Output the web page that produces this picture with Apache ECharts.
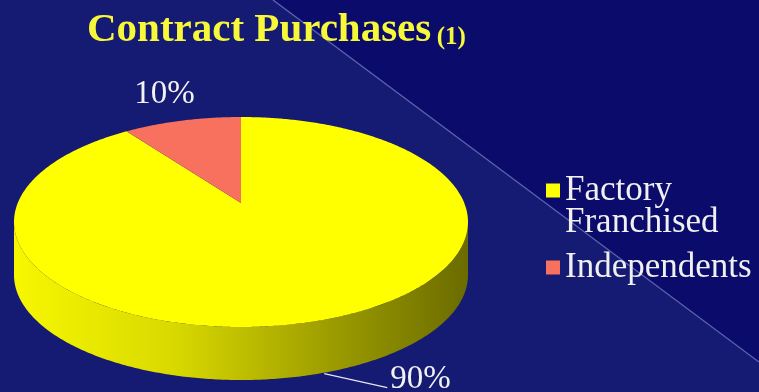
<!DOCTYPE html>
<html><head><meta charset="utf-8">
<script src="https://cdn.jsdelivr.net/npm/echarts@6/dist/echarts.min.js"></script>
<style>html,body{margin:0;padding:0;background:#0b0c6c}#c{width:759px;height:392px}</style>
</head><body><div id="c"></div>
<script>
// ---- data ----
const categories = ['Factory Franchised', 'Independents'];
const values = [90, 10];
const valueLabels = ['90%', '10%'];
const titleText = 'Contract Purchases';
const titleNote = '(1)';

// ---- style / layout ----
const colors = ['#ffff00', '#f8705e'];
const G = {cx: 241, cy: 222, rx: 227, ry: 105, depth: 53, s: -0.18};
const FONT = '"Liberation Serif", "Times New Roman", serif';
const total = values.reduce((a, b) => a + b, 0);

function proj(t, dy) {
  const c = Math.cos(t), sn = Math.sin(t), k = Math.sqrt(1 - G.s * G.s);
  const d = 1 + G.s * sn;
  return [G.cx + G.rx * c * k / d, G.cy + G.ry * (sn + G.s) / d + (dy || 0)];
}
function shade(hex, f) {
  const n = parseInt(hex.slice(1), 16);
  const r = Math.round(((n >> 16) & 255) * f), g = Math.round(((n >> 8) & 255) * f), b = Math.round((n & 255) * f);
  return 'rgb(' + r + ',' + g + ',' + b + ')';
}
function makeRender(i) {
  return function (params, api) {
    const v = api.value(0);
    let before = 0;
    for (let j = 0; j < i; j++) before += values[j];
    const a0 = -Math.PI / 2 + before / total * 2 * Math.PI;
    const a1 = a0 + v / total * 2 * Math.PI;
    const children = [];
    const pts = [[G.cx, G.cy + G.ry * G.s]];
    const n = Math.max(4, Math.ceil((a1 - a0) / 0.01));
    for (let k = 0; k <= n; k++) pts.push(proj(a0 + (a1 - a0) * k / n));
    children.push({type: 'polygon', shape: {points: pts}, style: {fill: colors[i]}, z2: 10});
    const vis0 = Math.asin(-G.s), vis1 = Math.PI - vis0;
    const grad = {type: 'linear', x: G.cx - G.rx, y: 0, x2: G.cx + G.rx, y2: 0, global: true,
      colorStops: [{offset: 0, color: shade(colors[i], 0.97)}, {offset: 0.35, color: shade(colors[i], 0.85)},
        {offset: 0.7, color: shade(colors[i], 0.61)}, {offset: 1, color: shade(colors[i], 0.42)}]};
    for (let m = -1; m <= 1; m++) {
      const lo = Math.max(a0, vis0 + m * 2 * Math.PI), hi = Math.min(a1, vis1 + m * 2 * Math.PI);
      if (hi > lo) {
        const top = [], bot = [];
        const nn = Math.max(4, Math.ceil((hi - lo) / 0.01));
        for (let k = 0; k <= nn; k++) {
          const t = lo + (hi - lo) * k / nn;
          top.push(proj(t));
          bot.push(proj(t, G.depth));
        }
        children.push({type: 'polygon', shape: {points: top.concat(bot.reverse())}, style: {fill: grad}, z2: 5});
      }
    }
    const am = (a0 + a1) / 2;
    const txtStyle = {fill: '#f2f2f2', fontSize: 33, fontFamily: FONT, text: valueLabels[i]};
    if (Math.sin(am) < 0) {
      const p = proj(am);
      children.push({type: 'text', z2: 20, style: Object.assign({}, txtStyle,
        {x: G.cx + (p[0] - G.cx) * 1.3, y: G.cy + (p[1] - G.cy) * 1.26, align: 'center', verticalAlign: 'middle'})});
    } else {
      const p = proj(am, G.depth);
      children.push({type: 'polyline', z2: 20, shape: {points: [[p[0], p[1] + 1], [p[0] + 63, p[1] + 15]]},
        style: {stroke: '#e6e6f0', lineWidth: 1.3, fill: null}});
      children.push({type: 'text', z2: 20, style: Object.assign({}, txtStyle,
        {x: p[0] + 66, y: p[1] + 7, align: 'left', verticalAlign: 'middle'})});
    }
    return {type: 'group', children: children};
  };
}

const chart = echarts.init(document.getElementById('c'), null, {renderer: 'canvas'});
chart.setOption({
  animation: false,
  backgroundColor: '#0a0b6b',
  graphic: [
    {type: 'polygon', z: -10, silent: true, shape: {points: [[0, 0], [273, 0], [759, 362], [759, 392], [0, 392]]}, style: {fill: '#151a72'}},
    {type: 'line', z: -9, silent: true, shape: {x1: 273, y1: 0, x2: 759, y2: 362}, style: {stroke: 'rgba(140,150,215,0.6)', lineWidth: 1.4}}
  ],
  title: {
    text: '{a|' + titleText + '}{s| }{b|' + titleNote + '}',
    left: 82, top: 5,
    textStyle: {rich: {
      a: {fontFamily: FONT, fontWeight: 'bold', fontSize: 41, color: '#f8f83a'},
      s: {fontFamily: FONT, fontSize: 22, color: '#f8f83a'},
      b: {fontFamily: FONT, fontWeight: 'bold', fontSize: 25, color: '#f8f83a', padding: [14, 0, 0, 0]}
    }}
  },
  legend: {
    orient: 'vertical', left: 541, top: 136, itemWidth: 14, itemHeight: 14, itemGap: 10,
    icon: 'rect', selectedMode: false,
    data: [{name: categories[0]}, {name: categories[1]}],
    formatter: name => (name.indexOf(' ') >= 0 ? '\n' + name.split(' ').join('\n') : name),
    textStyle: {fontFamily: FONT, fontSize: 35, color: '#f0f0f0', lineHeight: 32}
  },
  series: categories.map((name, i) => ({
    type: 'custom', name: name, coordinateSystem: 'none', silent: true,
    renderItem: makeRender(i), itemStyle: {color: colors[i]},
    data: [[values[i]]]
  }))
});
</script></body></html>
